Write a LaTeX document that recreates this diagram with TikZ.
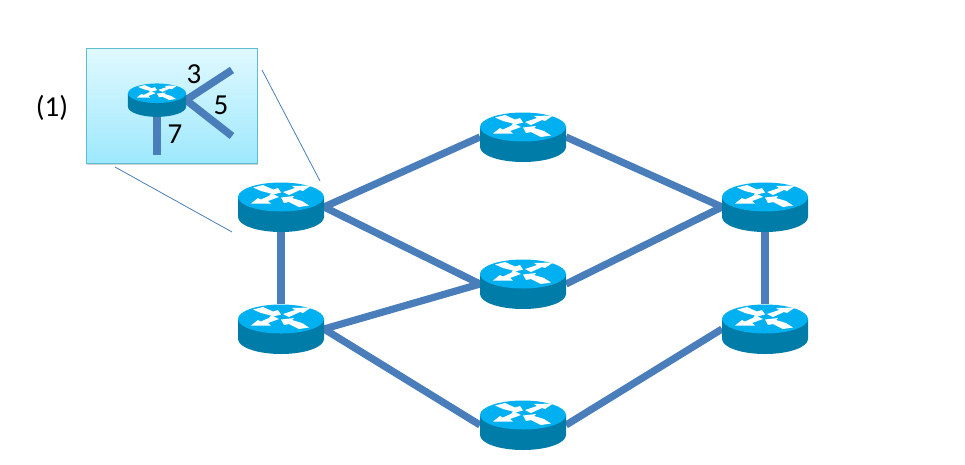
\documentclass[tikz,border=0pt]{standalone}
\usepackage{fontspec}
\setmainfont{Carlito}
\usetikzlibrary{shadows}
\definecolor{linkblue}{HTML}{4A7EBB}
\definecolor{routertop}{HTML}{00B0F0}
\definecolor{routerside}{HTML}{007CA8}
\definecolor{boxline}{HTML}{5BBDD3}
\definecolor{boxtop}{HTML}{E0F9FF}
\definecolor{boxlow}{HTML}{9EE8FD}
\tikzset{
  link/.style={line width=7.2pt, draw=linkblue},
  smalllink/.style={line width=7.5pt, draw=linkblue},
  callout/.style={line width=0.8pt, draw=linkblue},
  routernode/.style={inner sep=0, outer sep=0, minimum width=86pt, minimum height=50pt},
  smallrouternode/.style={inner sep=0, outer sep=0, minimum width=58pt, minimum height=34pt},
  numlabel/.style={inner sep=0, outer sep=0, font=\fontsize{29}{29}\selectfont}
}
% router symbol, drawn over the node #1 at scale #2
\newcommand{\routerdraw}[2]{
  \begin{scope}[shift={(#1.center)}, scale=#2]
    \fill [routerside] (-43,-10) -- (-43,10) arc [start angle=180, end angle=0, x radius=43, y radius=15] -- (43,-10) -- cycle;
    \fill [routertop] (0,-10) ellipse [x radius=43, y radius=14.5];
    \fill [white] (-28,-19.5) -- (-18,-22) -- (-8,-17.5) -- (-3,-19) -- (0,-14.5) -- (-12,-11.5) -- (-10,-13.5) -- (-20,-16) -- cycle;
    \fill [white] (2,-15) -- (14,-19) -- (11,-21) -- (30,-21.5) -- (22,-16) -- (19,-17) -- (8,-12) -- cycle;
    \fill [white] (-2,-10) -- (-13,-6) -- (-10,-3.5) -- (-30,-3.5) -- (-23,-9) -- (-20,-7.5) -- (-8,-13) -- cycle;
    \fill [white] (28,-1.5) -- (18,0) -- (8,-5) -- (3,-4) -- (0,-9.5) -- (13,-11) -- (11,-9) -- (21,-6) -- cycle;
  \end{scope}
}

\begin{document}
\begin{tikzpicture}[x=1pt, y=-1pt]
  \useasboundingbox (0,0) rectangle (965,464);

  \node [routernode] (lefttop) at (281,207) {};
  \node [routernode] (leftlow) at (281,329) {};
  \node [routernode] (midtop) at (523,137) {};
  \node [routernode] (midcentre) at (523,284) {};
  \node [routernode] (midlow) at (523,425) {};
  \node [routernode] (righttop) at (765,207) {};
  \node [routernode] (rightlow) at (765,329) {};

  \draw [link] (lefttop.east)--(midtop.west);
  \draw [link] (lefttop.east)--(midcentre.west);
  \draw [link] (leftlow.east)--(midcentre.west);
  \draw [link] (leftlow.east)--(midlow.west);
  \draw [link] (midtop.east)--(righttop.west);
  \draw [link] (midcentre.east)--(righttop.west);
  \draw [link] (midlow.east)--(rightlow.west);
  \draw [link] (lefttop.south)--(leftlow.north);
  \draw [link] (righttop.south)--(rightlow.north);

  \routerdraw{lefttop}{1}
  \routerdraw{leftlow}{1}
  \routerdraw{midtop}{1}
  \routerdraw{midcentre}{1}
  \routerdraw{midlow}{1}
  \routerdraw{righttop}{1}
  \routerdraw{rightlow}{1}

  % inset box
  \node [inner sep=0, outer sep=0, minimum width=171pt, minimum height=115pt, draw=boxline, line width=0.8pt,
    top color=boxtop, bottom color=boxlow, drop shadow={shadow xshift=0.5pt, shadow yshift=-1.5pt, opacity=0.35}] (inset) at (171.5,105.5) {};
  \node [smallrouternode] (insetrouter) at (157,100) {};
  \coordinate (endthree) at (232,70);
  \coordinate (endfive) at (232,136);
  \coordinate (endseven) at (157,155);
  \draw [smalllink] (insetrouter.east)--(endthree);
  \draw [smalllink] (insetrouter.east)--(endfive);
  \draw [smalllink] (insetrouter.south)--(endseven);
  \routerdraw{insetrouter}{0.675}

  \node [numlabel] (three) at (194,74) {3};
  \node [numlabel] (five) at (221,105) {5};
  \node [numlabel] (seven) at (175,134) {7};
  \node [numlabel] (caption) at (52,108) {(1)};

  \coordinate (upperfrom) at (262,70);
  \coordinate (upperto) at (320,181);
  \coordinate (lowerfrom) at (115,167);
  \coordinate (lowerto) at (232,232);
  \draw [callout] (upperfrom)--(upperto);
  \draw [callout] (lowerfrom)--(lowerto);
\end{tikzpicture}
\end{document}
